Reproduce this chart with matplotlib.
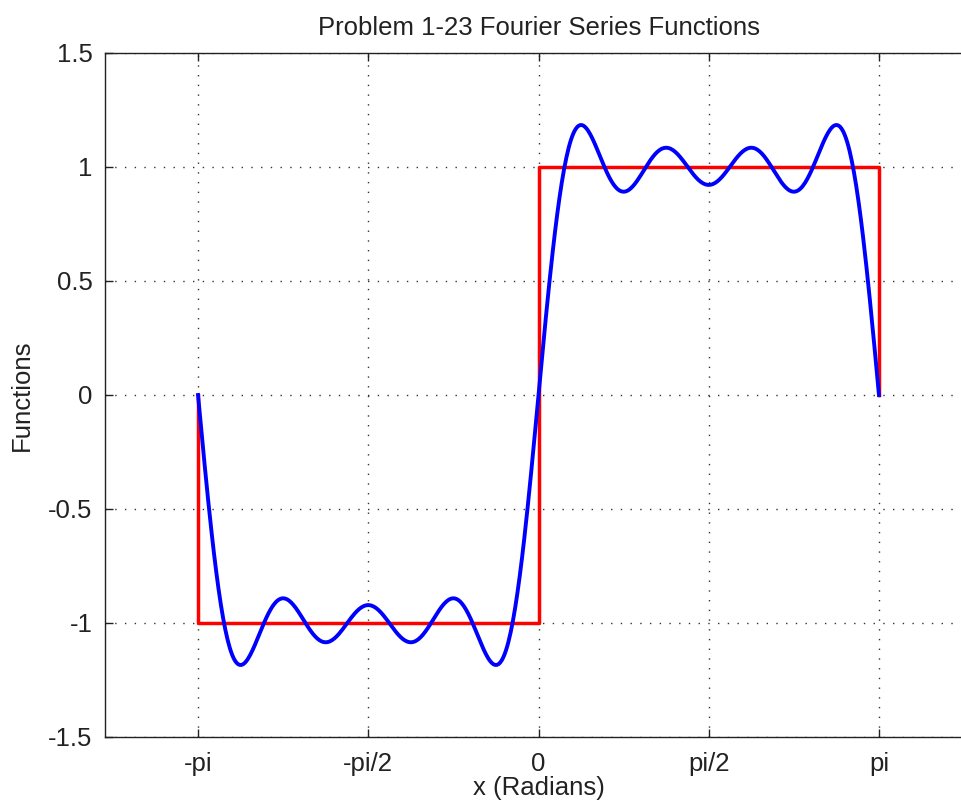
import numpy as np
import matplotlib
matplotlib.use("Agg")
import matplotlib.pyplot as plt

# ---------------------------------------------------------------------------
# Data: square wave on [-pi, pi] and its 4-term Fourier sine series
# ---------------------------------------------------------------------------
SQUARE_X = [-np.pi, -np.pi, 0.0, 0.0, np.pi, np.pi]
SQUARE_Y = [0.0, -1.0, -1.0, 1.0, 1.0, 0.0]

HARMONICS  = [1, 3, 5, 7]
AMPLITUDES = [1.2732, 0.4244, 0.2546, 0.1819]   # 4/(n*pi)

TICK_POS    = [-np.pi, -np.pi / 2, 0.0, np.pi / 2, np.pi]
TICK_LABELS = ["-pi", "-pi/2", "0", "pi/2", "pi"]
Y_TICKS     = [-1.5, -1.0, -0.5, 0.0, 0.5, 1.0, 1.5]
Y_LABELS    = ["-1.5", "-1", "-0.5", "0", "0.5", "1", "1.5"]

plt.rcParams["font.family"] = ["Liberation Sans", "DejaVu Sans"]

x = np.linspace(-np.pi, np.pi, 600)
series = np.zeros_like(x)
for n, b in zip(HARMONICS, AMPLITUDES):
    series += b * np.sin(n * x)

W, H, DPI = 962, 807, 100
FS = 18.5
fig = plt.figure(figsize=(W / DPI, H / DPI), dpi=DPI)
# axes spans past the right edge, as in the cropped original
ax = fig.add_axes([105 / W, (H - 737) / H, 867 / W, 684 / H])

ax.plot(SQUARE_X, SQUARE_Y, color="#ff0000", lw=2.5)
ax.plot(x, series, color="#0000ff", lw=2.8)

ax.set_xlim(-4, 4)
ax.set_ylim(-1.5, 1.5)
ax.set_xticks(TICK_POS, TICK_LABELS)
ax.set_yticks(Y_TICKS, Y_LABELS)
ax.grid(True, color="#333333", linestyle=(0, (1, 6)), lw=1.0)

ax.tick_params(direction="in", length=6, width=1.0, top=True, right=True,
               labelsize=FS, colors="#222222", pad=9)
ax.tick_params(axis="x", pad=11)
for s in ax.spines.values():
    s.set_linewidth(1.0)
    s.set_color("#222222")

ax.set_title("Problem 1-23 Fourier Series Functions", fontsize=FS,
             color="#222222", pad=13)
ax.set_xlabel("x (Radians)", fontsize=FS, color="#222222", labelpad=0)
ax.set_ylabel("Functions", fontsize=FS, color="#222222", labelpad=10)

fig.savefig("out.png", dpi=DPI)
